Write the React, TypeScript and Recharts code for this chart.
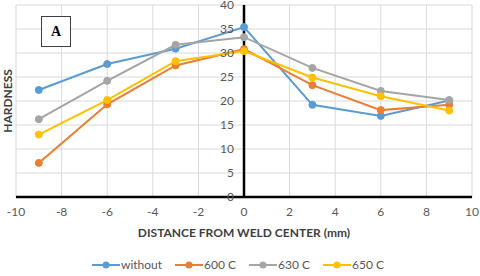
import React from 'react';
import { LineChart, Line, XAxis, YAxis, CartesianGrid, Legend, ReferenceLine } from 'recharts';

const distance = [-9, -6, -3, 0, 3, 6, 9];
const without = [22.3, 27.7, 30.9, 35.4, 19.2, 16.9, 20.1];
const c600 = [7.1, 19.3, 27.4, 30.8, 23.3, 18.1, 19.2];
const c630 = [16.2, 24.2, 31.7, 33.3, 26.9, 22.1, 20.2];
const c650 = [13.0, 20.2, 28.3, 30.4, 24.9, 21.0, 18.0];

const xTicks = [-10, -8, -6, -4, -2, 0, 2, 4, 6, 8, 10];
const yTicks = [0, 5, 10, 15, 20, 25, 30, 35, 40];

const series = [
  { key: 'without', name: 'without', color: '#5B9BD5' },
  { key: 'c600', name: '600 C', color: '#ED7D31' },
  { key: 'c630', name: '630 C', color: '#A5A5A5' },
  { key: 'c650', name: '650 C', color: '#FFC000' },
];

const data = distance.map((d, i) => ({
  d,
  without: without[i],
  c600: c600[i],
  c630: c630[i],
  c650: c650[i],
}));

const W = 480;
const H = 276;
const PLOT_LEFT = 16;
const PLOT_RIGHT = 8;
const FONT = 'Lato, "Liberation Sans", sans-serif';

// y axis sits at x = 0, so move the tick labels over there
const zeroX = PLOT_LEFT + (W - PLOT_LEFT - PLOT_RIGHT) / 2;

const YTick = (props: any) => {
  const { y, payload } = props;
  return (
    <text x={zeroX - 10} y={y} dy={4} textAnchor="end" fill="#595959" fontSize={12} fontFamily={FONT}>
      {payload.value}
    </text>
  );
};

const YTitle = (props: any) => {
  const { viewBox } = props;
  const cx = 7;
  const cy = viewBox.y + viewBox.height / 2;
  return (
    <text x={cx} y={cy} transform={`rotate(-90 ${cx} ${cy})`} textAnchor="middle" dominantBaseline="central"
      fill="#404040" fontSize={12} fontWeight={700} fontFamily={FONT}>
      HARDNESS
    </text>
  );
};

const LegendContent = () => (
  <div style={{ display: 'flex', justifyContent: 'center', gap: 13, paddingTop: 10, paddingLeft: 4, fontFamily: FONT, fontSize: 12, color: '#595959' }}>
    {series.map(s => (
      <div key={s.key} style={{ display: 'flex', alignItems: 'center', gap: 1 }}>
        <svg width={28} height={10}>
          <line x1={0} y1={5} x2={28} y2={5} stroke={s.color} strokeWidth={2} />
          <circle cx={14} cy={5} r={3.5} fill={s.color} />
        </svg>
        <span>{s.name}</span>
      </div>
    ))}
  </div>
);

export default function App() {
  return (
    <div style={{ position: 'absolute', left: 0, top: 0, width: W, height: H, background: '#fff' }}>
      <LineChart width={W} height={H} data={data} margin={{ top: 5, right: PLOT_RIGHT, left: 0, bottom: 0 }}>
        <CartesianGrid stroke="#D9D9D9" strokeWidth={1} />
        <XAxis
          dataKey="d"
          type="number"
          domain={[-10, 10]}
          ticks={xTicks}
          interval={0}
          height={50}
          tickSize={0}
          tickMargin={10}
          axisLine={{ stroke: '#000', strokeWidth: 2.5 }}
          tick={{ fill: '#595959', fontSize: 12, fontFamily: FONT }}
          label={{ value: 'DISTANCE FROM WELD CENTER (mm)', position: 'insideBottom', offset: 10, fill: '#404040', fontSize: 12, fontWeight: 700, fontFamily: FONT }}
        />
        <YAxis
          type="number"
          domain={[0, 40]}
          ticks={yTicks}
          interval={0}
          width={PLOT_LEFT}
          axisLine={false}
          tickLine={false}
          tick={<YTick />}
          label={<YTitle />}
        />
        <ReferenceLine x={0} stroke="#000" strokeWidth={2.5} />
        <Legend verticalAlign="bottom" height={29} content={<LegendContent />} />
        {series.map(s => (
          <Line
            key={s.key}
            dataKey={s.key}
            name={s.name}
            stroke={s.color}
            strokeWidth={2}
            dot={{ r: 3.5, fill: s.color, stroke: s.color, strokeWidth: 1 }}
            isAnimationActive={false}
          />
        ))}
      </LineChart>
      <div
        style={{
          position: 'absolute', left: 41, top: 16, width: 28, height: 29,
          border: '1px solid #404040', background: '#fff',
          display: 'flex', alignItems: 'center', justifyContent: 'center',
          fontFamily: '"Liberation Serif", serif', fontWeight: 700, fontSize: 14,
        }}
      >
        A
      </div>
    </div>
  );
}
